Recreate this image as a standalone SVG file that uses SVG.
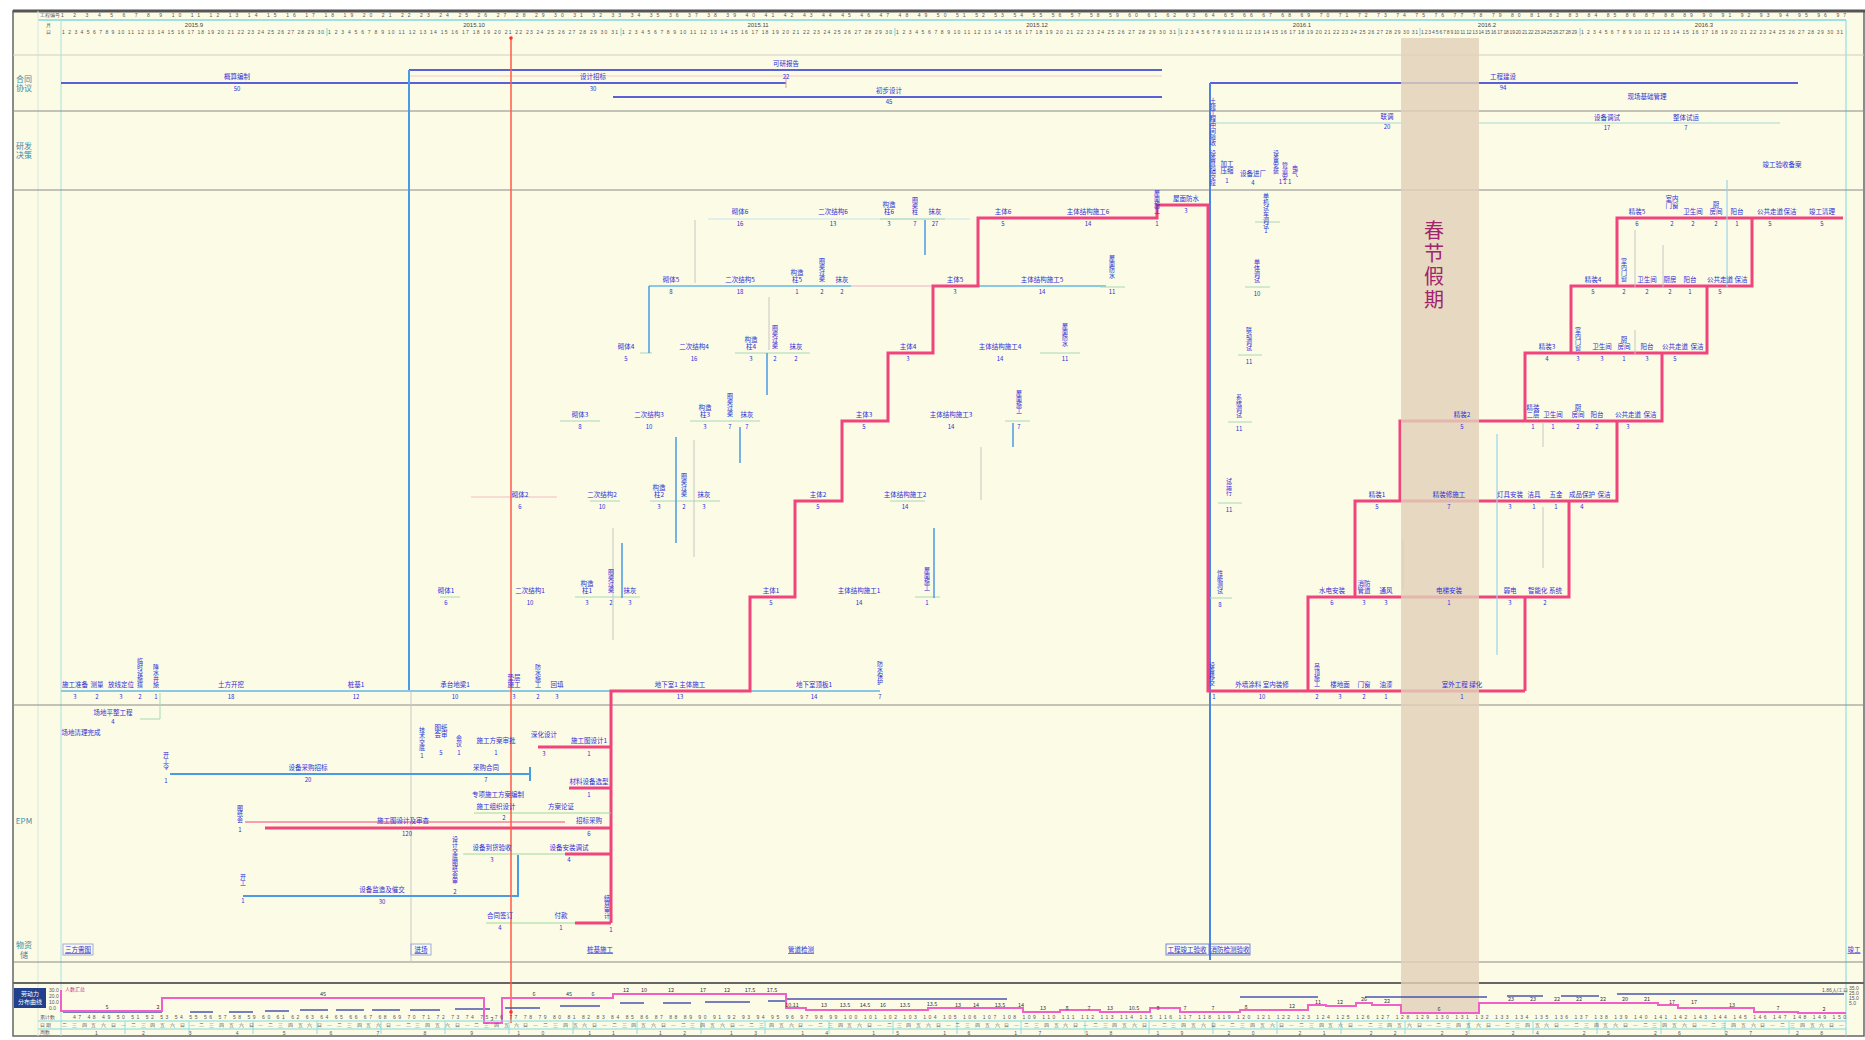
<svg xmlns="http://www.w3.org/2000/svg" width="1865" height="1040" viewBox="0 0 1865 1040">
<defs>
<style>
text{font-family:"Noto Sans CJK SC","Liberation Sans",sans-serif}
.l{font-size:6.5px;fill:#2d2fd8;text-anchor:middle}
.du{font-size:6px;fill:#2d2fd8;text-anchor:middle}
.v{font-size:6px;fill:#2d2fd8;writing-mode:vertical-rl}
.h{font-size:5px;fill:#555;font-family:"Liberation Sans",sans-serif}
.hm{font-size:6px;fill:#444;text-anchor:middle;font-family:"Liberation Sans",sans-serif}
.lab{font-size:8px;fill:#3a8ca8;text-anchor:middle}
.bx{font-size:6.5px;fill:#2d2fd8;text-anchor:middle;text-decoration:underline}
.cn{font-size:5.5px;fill:#333;text-anchor:middle;font-family:"Liberation Sans",sans-serif}
.crit{stroke:#f0447c;stroke-width:3;fill:none}
.act{stroke:#89c9e6;stroke-width:2;fill:none}
.thin{stroke:#a9d8b8;stroke-width:1;fill:none}
.dep{stroke:#c6c6c6;stroke-width:1;fill:none}
.bdep{stroke:#4a9be6;stroke-width:1.5;fill:none}
.sep{stroke:#8a8a8a;stroke-width:1}
.pl{stroke:#5862d6;stroke-width:2;fill:none}
.hol{font-size:20px;fill:#a0246e;writing-mode:vertical-rl;letter-spacing:3px}
</style>
</defs>
<rect x="0" y="0" width="1865" height="1040" fill="#ffffff"/>
<rect x="13" y="11" width="1851" height="1025" fill="#fcfbe6" stroke="#666" stroke-width="1.5"/>
<line x1="13" y1="11" x2="1865" y2="11" stroke="#555" stroke-width="3"/>

<g id="timescale">
<line x1="38" y1="20" x2="1846" y2="20" stroke="#7fd8e0" stroke-width="1.5"/>
<line x1="38" y1="11" x2="38" y2="1036" stroke="#d8e8e0" stroke-width="1"/>
<line x1="61" y1="20" x2="61" y2="1036" stroke="#a8e0e4" stroke-width="1"/>
<line x1="1846" y1="20" x2="1846" y2="1036" stroke="#7fd8e0" stroke-width="1"/>
<text class="h" x="40" y="17">工程编号</text>
<text class="h" x="61" y="17" textLength="1785" lengthAdjust="spacing">1 2 3 4 5 6 7 8 9 10 11 12 13 14 15 16 17 18 19 20 21 22 23 24 25 26 27 28 29 30 31 32 33 34 35 36 37 38 39 40 41 42 43 44 45 46 47 48 49 50 51 52 53 54 55 56 57 58 59 60 61 62 63 64 65 66 67 68 69 70 71 72 73 74 75 76 77 78 79 80 81 82 83 84 85 86 87 88 89 90 91 92 93 94 95 96 97</text>
<text class="h" x="46" y="27">月</text>
<text class="h" x="46" y="34">日</text>
<text class="hm" x="194" y="27">2015.9</text>
<text class="hm" x="474" y="27">2015.10</text>
<text class="hm" x="758" y="27">2015.11</text>
<text class="hm" x="1037" y="27">2015.12</text>
<text class="hm" x="1302" y="27">2016.1</text>
<text class="hm" x="1487" y="27">2016.2</text>
<text class="hm" x="1704" y="27">2016.3</text>
<text class="h" x="62" y="34" textLength="262" lengthAdjust="spacing">1 2 3 4 5 6 7 8 9 10 11 12 13 14 15 16 17 18 19 20 21 22 23 24 25 26 27 28 29 30</text>
<text class="h" x="328" y="34" textLength="290" lengthAdjust="spacing">1 2 3 4 5 6 7 8 9 10 11 12 13 14 15 16 17 18 19 20 21 22 23 24 25 26 27 28 29 30 31</text>
<text class="h" x="622" y="34" textLength="270" lengthAdjust="spacing">1 2 3 4 5 6 7 8 9 10 11 12 13 14 15 16 17 18 19 20 21 22 23 24 25 26 27 28 29 30</text>
<text class="h" x="896" y="34" textLength="280" lengthAdjust="spacing">1 2 3 4 5 6 7 8 9 10 11 12 13 14 15 16 17 18 19 20 21 22 23 24 25 26 27 28 29 30 31</text>
<text class="h" x="1180" y="34" textLength="238" lengthAdjust="spacing">1 2 3 4 5 6 7 8 9 10 11 12 13 14 15 16 17 18 19 20 21 22 23 24 25 26 27 28 29 30 31</text>
<text class="h" x="1421" y="34" textLength="156" lengthAdjust="spacing">1 2 3 4 5 6 7 8 9 10 11 12 13 14 15 16 17 18 19 20 21 22 23 24 25 26 27 28 29</text>
<text class="h" x="1581" y="34" textLength="262" lengthAdjust="spacing">1 2 3 4 5 6 7 8 9 10 11 12 13 14 15 16 17 18 19 20 21 22 23 24 25 26 27 28 29 30 31</text>
<path d="M327 28V36M621 28V36M895 28V36M1179 28V36M1420 28V36M1580 28V36" stroke="#7fd8e0" stroke-width="1"/>
</g>

<g id="bands">
<line x1="13" y1="55" x2="1864" y2="55" stroke="#d0cfc0" stroke-width="1"/>
<line class="sep" x1="13" y1="111" x2="1864" y2="111"/>
<line class="sep" x1="13" y1="190" x2="1864" y2="190"/>
<line class="sep" x1="13" y1="705" x2="1864" y2="705"/>
<line class="sep" x1="13" y1="962" x2="1864" y2="962"/>
<line x1="13" y1="983" x2="1864" y2="983" stroke="#666" stroke-width="2"/>
<text class="lab" x="24" y="82">合同</text>
<text class="lab" x="24" y="91">协议</text>
<text class="lab" x="24" y="149">研发</text>
<text class="lab" x="24" y="158">决策</text>
<text class="lab" x="24" y="824">EPM</text>
<text class="lab" x="24" y="948">物资</text>
<text class="lab" x="24" y="958">储</text>
</g>

<g id="connectors">
<path class="pl" d="M61 83H409M409 70H1162M409 83H786M613 97H1162M1210 83H1798"/>
<path d="M409 76H1162" stroke="#f0cfc4" stroke-width="1"/>
<path d="M786 76V88" stroke="#e0a0a0" stroke-width="1"/>
<path d="M409 70V691" stroke="#4a9be6" stroke-width="2"/>
<path d="M411 691V962" stroke="#c8c8c8" stroke-width="1"/>
<path d="M1210 83V960" stroke="#4a86e0" stroke-width="2"/>
<path d="M1210 123H1401M1479 123H1780" stroke="#a9d8d0" stroke-width="1"/>
<path class="act" d="M61 691H611M750 691H880M649 286H851M978 286H1106"/>
<path d="M851 286H933" stroke="#f6c8d0" stroke-width="1.5"/>
<path d="M708 219H970" stroke="#c5e3ec" stroke-width="1"/>
<path class="thin" d="M640 353H652M735 353H810M1040 353H1080M560 421H600M690 421H760M1005 421H1030M590 501H620M650 501H720M890 501H925M440 597H460M575 597H640M915 597H940M880 219H945M1255 222H1280M1245 287H1270M1238 355H1262M1228 422H1252M1218 503H1242M1210 598H1232M1100 287H1125M140 719H160V693"/>
<path d="M471 497H557" stroke="#f6b8c4" stroke-width="1"/>
<path class="crit" d="M611 923V691H750V597H795V501H842V421H888V353H933V286H978V218H1157V205H1208V691H1525"/>
<path class="crit" d="M1308 691V597H1569V501M1355 597V501H1617V421M1400 501V421H1662V353M1525 421V353H1707V286M1571 353V286H1752V218M1617 286V218H1843M1525 691V597"/>
<path class="crit" d="M538 747H611M569 788H611M265 828H611M565 854H611M575 923H611"/>
<path d="M245 822H565" stroke="#f0447c" stroke-width="1"/>
<path d="M474 813H611M463 854H565M486 923H575" stroke="#9ed89a" stroke-width="1"/>
<path d="M170 774H530M243 896H518V855M530 767V781" stroke="#4a9be6" stroke-width="2" fill="none"/>
<path class="bdep" d="M649 286V353M767 353V395M676 437V543M740 427V463M622 543V598M1013 423V447M934 528V598M925 220V255"/>
<path class="dep" d="M695 220V283M769 297V350M694 440V557M613 528V640M981 447V500M1543 507V568M1543 422V447M1635 230V287M1663 245V287M1635 330V354M1403 540V590"/>
<path d="M1497 434V655M1727 180V287" stroke="#9cd4e6" stroke-width="1.2"/>
</g>

<g id="holiday">
<rect x="1401" y="38" width="78" height="974" fill="#e0cfb8" fill-opacity="0.82"/>
<text class="hol" x="1434" y="220">春节假期</text>
</g>

<g id="today">
<line x1="511" y1="37" x2="511" y2="1023" stroke="#ff5a48" stroke-width="1.5"/>
<circle cx="511" cy="38" r="1.8" fill="#ff3030"/>
<circle cx="511" cy="1012" r="1.8" fill="#ff3030"/>
</g>

<g id="n-contract">
<g id="p1"><text class="l" x="237" y="79">概算编制</text><text class="du" x="237" y="91">50</text></g>
<g id="p2"><text class="l" x="786" y="66">可研报告</text><text class="du" x="786" y="79">22</text></g>
<g id="p3"><text class="l" x="593" y="79">设计招标</text><text class="du" x="593" y="91">30</text></g>
<g id="p4"><text class="l" x="889" y="93">初步设计</text><text class="du" x="889" y="104">45</text></g>
<g id="p5"><text class="l" x="1503" y="79">工程建设</text><text class="du" x="1503" y="90">94</text></g>
<g id="p6"><text class="l" x="1647" y="99">现场基础管理</text></g>
</g>

<g id="n-research">
<g id="q1"><text class="l" x="1387" y="119">联调</text><text class="du" x="1387" y="129">20</text></g>
<g id="q2"><text class="l" x="1607" y="120">设备调试</text><text class="du" x="1607" y="130">17</text></g>
<g id="q3"><text class="l" x="1686" y="120">整体试运</text><text class="du" x="1686" y="130">7</text></g>
<g id="q4"><text class="l" x="1782" y="167">竣工验收备案</text></g>
<g id="q5"><text class="v" x="1213" y="98">土建工程中间验收</text><text class="v" x="1213" y="150">设备基础交接</text></g>
<g id="q6"><text class="l" x="1227" y="166">加工</text><text class="l" x="1227" y="173">压缩</text><text class="du" x="1227" y="183">1</text></g>
<g id="q7"><text class="l" x="1253" y="176">设备进厂</text><text class="du" x="1253" y="185">4</text></g>
<g id="q8"><text class="v" x="1276" y="150">设备安装</text><text class="v" x="1285" y="162">管道安</text><text class="v" x="1295" y="165">电气</text><text class="du" x="1285" y="184">1 1 1</text></g>
</g>

<g id="n-main">
<g id="a01"><text class="l" x="75" y="687">施工准备</text><text class="du" x="75" y="699">3</text></g>
<g id="a02"><text class="l" x="97" y="687">测量</text><text class="du" x="97" y="699">2</text></g>
<g id="a03"><text class="l" x="121" y="687">放线定位</text><text class="du" x="121" y="699">3</text></g>
<g id="a04"><text class="v" x="140" y="658">临时设施搭</text><text class="du" x="140" y="699">2</text></g>
<g id="a05"><text class="v" x="156" y="664">降水井施</text><text class="du" x="156" y="699">1</text></g>
<g id="a06"><text class="l" x="231" y="687">土方开挖</text><text class="du" x="231" y="699">18</text></g>
<g id="a07"><text class="l" x="356" y="687">桩基1</text><text class="du" x="356" y="699">12</text></g>
<g id="a08"><text class="l" x="455" y="687">承台地梁1</text><text class="du" x="455" y="699">10</text></g>
<g id="a09"><text class="l" x="514" y="680">垫层</text><text class="l" x="514" y="687">施工</text><text class="du" x="514" y="699">3</text></g>
<g id="a10"><text class="v" x="538" y="664">防水施工</text><text class="du" x="538" y="699">2</text></g>
<g id="a11"><text class="l" x="557" y="687">回填</text><text class="du" x="557" y="699">3</text></g>
<g id="a12"><text class="l" x="680" y="687">地下室1 主体施工</text><text class="du" x="680" y="699">13</text></g>
<g id="a13"><text class="l" x="814" y="687">地下室顶板1</text><text class="du" x="814" y="699">14</text></g>
<g id="a14"><text class="v" x="880" y="661">防水保护</text><text class="du" x="880" y="699">7</text></g>
<g id="a15"><text class="l" x="113" y="715">场地平整工程</text><text class="du" x="113" y="724">4</text></g>
<g id="a16"><text class="l" x="81" y="735">场地清理完成</text></g>

<g id="b01"><text class="l" x="446" y="593">砌体1</text><text class="du" x="446" y="605">6</text></g>
<g id="b02"><text class="l" x="530" y="593">二次结构1</text><text class="du" x="530" y="605">10</text></g>
<g id="b03"><text class="l" x="587" y="586">构造</text><text class="l" x="587" y="593">柱1</text><text class="du" x="587" y="605">3</text></g>
<g id="b04"><text class="v" x="611" y="569">圈梁过梁</text><text class="du" x="611" y="605">2</text></g>
<g id="b05"><text class="l" x="630" y="593">抹灰</text><text class="du" x="630" y="605">3</text></g>
<g id="b06"><text class="l" x="771" y="593">主体1</text><text class="du" x="771" y="605">5</text></g>
<g id="b07"><text class="l" x="859" y="593">主体结构施工1</text><text class="du" x="859" y="605">14</text></g>
<g id="b08"><text class="v" x="927" y="567">屋面施工</text><text class="du" x="927" y="605">1</text></g>

<g id="c01"><text class="l" x="520" y="497">砌体2</text><text class="du" x="520" y="509">6</text></g>
<g id="c02"><text class="l" x="602" y="497">二次结构2</text><text class="du" x="602" y="509">10</text></g>
<g id="c03"><text class="l" x="659" y="490">构造</text><text class="l" x="659" y="497">柱2</text><text class="du" x="659" y="509">3</text></g>
<g id="c04"><text class="v" x="684" y="473">圈梁过梁</text><text class="du" x="684" y="509">2</text></g>
<g id="c05"><text class="l" x="704" y="497">抹灰</text><text class="du" x="704" y="509">3</text></g>
<g id="c06"><text class="l" x="818" y="497">主体2</text><text class="du" x="818" y="509">5</text></g>
<g id="c07"><text class="l" x="905" y="497">主体结构施工2</text><text class="du" x="905" y="509">14</text></g>

<g id="d01"><text class="l" x="580" y="417">砌体3</text><text class="du" x="580" y="429">8</text></g>
<g id="d02"><text class="l" x="649" y="417">二次结构3</text><text class="du" x="649" y="429">10</text></g>
<g id="d03"><text class="l" x="705" y="410">构造</text><text class="l" x="705" y="417">柱3</text><text class="du" x="705" y="429">3</text></g>
<g id="d04"><text class="v" x="730" y="393">圈梁过梁</text><text class="du" x="730" y="429">7</text></g>
<g id="d05"><text class="l" x="747" y="417">抹灰</text><text class="du" x="747" y="429">7</text></g>
<g id="d06"><text class="l" x="864" y="417">主体3</text><text class="du" x="864" y="429">5</text></g>
<g id="d07"><text class="l" x="951" y="417">主体结构施工3</text><text class="du" x="951" y="429">14</text></g>
<g id="d08"><text class="v" x="1019" y="390">屋面施工</text><text class="du" x="1019" y="429">7</text></g>

<g id="e01"><text class="l" x="626" y="349">砌体4</text><text class="du" x="626" y="361">5</text></g>
<g id="e02"><text class="l" x="694" y="349">二次结构4</text><text class="du" x="694" y="361">16</text></g>
<g id="e03"><text class="l" x="751" y="342">构造</text><text class="l" x="751" y="349">柱4</text><text class="du" x="751" y="361">3</text></g>
<g id="e04"><text class="v" x="775" y="325">圈梁过梁</text><text class="du" x="775" y="361">2</text></g>
<g id="e05"><text class="l" x="796" y="349">抹灰</text><text class="du" x="796" y="361">2</text></g>
<g id="e06"><text class="l" x="908" y="349">主体4</text><text class="du" x="908" y="361">3</text></g>
<g id="e07"><text class="l" x="1000" y="349">主体结构施工4</text><text class="du" x="1000" y="361">14</text></g>
<g id="e08"><text class="v" x="1065" y="323">屋面防水</text><text class="du" x="1065" y="361">11</text></g>

<g id="f01"><text class="l" x="671" y="282">砌体5</text><text class="du" x="671" y="294">8</text></g>
<g id="f02"><text class="l" x="740" y="282">二次结构5</text><text class="du" x="740" y="294">18</text></g>
<g id="f03"><text class="l" x="797" y="275">构造</text><text class="l" x="797" y="282">柱5</text><text class="du" x="797" y="294">1</text></g>
<g id="f04"><text class="v" x="822" y="258">圈梁过梁</text><text class="du" x="822" y="294">2</text></g>
<g id="f05"><text class="l" x="842" y="282">抹灰</text><text class="du" x="842" y="294">2</text></g>
<g id="f06"><text class="l" x="955" y="282">主体5</text><text class="du" x="955" y="294">3</text></g>
<g id="f07"><text class="l" x="1042" y="282">主体结构施工5</text><text class="du" x="1042" y="294">14</text></g>
<g id="f08"><text class="v" x="1112" y="255">屋面防水</text><text class="du" x="1112" y="294">11</text></g>

<g id="g01"><text class="l" x="740" y="214">砌体6</text><text class="du" x="740" y="226">16</text></g>
<g id="g02"><text class="l" x="833" y="214">二次结构6</text><text class="du" x="833" y="226">13</text></g>
<g id="g03"><text class="l" x="889" y="207">构造</text><text class="l" x="889" y="214">柱6</text><text class="du" x="889" y="226">3</text></g>
<g id="g04"><text class="v" x="915" y="197">圈梁柱</text><text class="du" x="915" y="226">7</text></g>
<g id="g05"><text class="l" x="935" y="214">抹灰</text><text class="du" x="935" y="226">27</text></g>
<g id="g06"><text class="l" x="1003" y="214">主体6</text><text class="du" x="1003" y="226">5</text></g>
<g id="g07"><text class="l" x="1088" y="214">主体结构施工6</text><text class="du" x="1088" y="226">14</text></g>
<g id="g08"><text class="v" x="1157" y="190">屋面施工</text><text class="du" x="1157" y="226">1</text></g>
<g id="g09"><text class="l" x="1186" y="201">屋面防水</text><text class="du" x="1186" y="213">3</text></g>

<g id="r01"><text class="v" x="1266" y="193">单机试车调试</text><text class="du" x="1266" y="233">1</text></g>
<g id="r02"><text class="v" x="1257" y="259">单体调试</text><text class="du" x="1257" y="296">10</text></g>
<g id="r03"><text class="v" x="1249" y="327">联动调试</text><text class="du" x="1249" y="364">11</text></g>
<g id="r04"><text class="v" x="1239" y="394">系统调试</text><text class="du" x="1239" y="431">11</text></g>
<g id="r05"><text class="v" x="1229" y="478">试运行</text><text class="du" x="1229" y="512">11</text></g>
<g id="r06"><text class="v" x="1220" y="570">性能测试</text><text class="du" x="1220" y="607">8</text></g>
<g id="r07"><text class="v" x="1212" y="662">设备移交</text><text class="du" x="1214" y="699">1</text></g>

<g id="h01"><text class="l" x="1262" y="687">外墙涂料 室内装修</text><text class="du" x="1262" y="699">10</text></g>
<g id="h02"><text class="v" x="1317" y="663">吊顶施工</text><text class="du" x="1317" y="699">2</text></g>
<g id="h03"><text class="l" x="1340" y="687">楼地面</text><text class="du" x="1340" y="699">3</text></g>
<g id="h04"><text class="l" x="1364" y="687">门窗</text><text class="du" x="1364" y="699">2</text></g>
<g id="h05"><text class="l" x="1386" y="687">油漆</text><text class="du" x="1386" y="699">1</text></g>
<g id="h06"><text class="l" x="1462" y="687">室外工程 绿化</text><text class="du" x="1462" y="699">1</text></g>
<g id="h07"><text class="l" x="1332" y="593">水电安装</text><text class="du" x="1332" y="605">6</text></g>
<g id="h08"><text class="l" x="1364" y="586">消防</text><text class="l" x="1364" y="593">管道</text><text class="du" x="1364" y="605">3</text></g>
<g id="h09"><text class="l" x="1386" y="593">通风</text><text class="du" x="1386" y="605">3</text></g>
<g id="h10"><text class="l" x="1449" y="593">电梯安装</text><text class="du" x="1449" y="605">1</text></g>
<g id="h11"><text class="l" x="1510" y="593">弱电</text><text class="du" x="1510" y="605">3</text></g>
<g id="h12"><text class="l" x="1545" y="593">智能化 系统</text><text class="du" x="1545" y="605">2</text></g>
<g id="h13"><text class="l" x="1377" y="497">精装1</text><text class="du" x="1377" y="509">5</text></g>
<g id="h14"><text class="l" x="1449" y="497">精装修施工</text><text class="du" x="1449" y="509">7</text></g>
<g id="h15"><text class="l" x="1510" y="497">灯具安装</text><text class="du" x="1510" y="509">3</text></g>
<g id="h16"><text class="l" x="1534" y="497">洁具</text><text class="du" x="1534" y="509">1</text></g>
<g id="h17"><text class="l" x="1556" y="497">五金</text><text class="du" x="1556" y="509">1</text></g>
<g id="h18"><text class="l" x="1582" y="497">成品保护</text><text class="du" x="1582" y="509">4</text></g>
<g id="h19"><text class="l" x="1604" y="497">保洁</text></g>

<g id="i00"><text class="l" x="1462" y="417">精装2</text><text class="du" x="1462" y="429">5</text></g>
<g id="i01"><text class="l" x="1533" y="410">精装</text><text class="l" x="1533" y="417">二层</text><text class="du" x="1533" y="429">1</text></g>
<g id="i02"><text class="l" x="1553" y="417">卫生间</text><text class="du" x="1553" y="429">1</text></g>
<g id="i03"><text class="l" x="1578" y="410">厨</text><text class="l" x="1578" y="417">房间</text><text class="du" x="1578" y="429">2</text></g>
<g id="i04"><text class="l" x="1597" y="417">阳台</text><text class="du" x="1597" y="429">2</text></g>
<g id="i05"><text class="l" x="1628" y="417">公共走道</text><text class="du" x="1628" y="429">3</text></g>
<g id="i06"><text class="l" x="1650" y="417">保洁</text></g>

<g id="j01"><text class="l" x="1547" y="349">精装3</text><text class="du" x="1547" y="361">4</text></g>
<g id="j02"><text class="v" x="1578" y="327">室内门窗</text><text class="du" x="1578" y="361">3</text></g>
<g id="j03"><text class="l" x="1602" y="349">卫生间</text><text class="du" x="1602" y="361">3</text></g>
<g id="j04"><text class="l" x="1624" y="342">厨</text><text class="l" x="1624" y="349">房间</text><text class="du" x="1624" y="361">1</text></g>
<g id="j05"><text class="l" x="1647" y="349">阳台</text><text class="du" x="1647" y="361">3</text></g>
<g id="j06"><text class="l" x="1675" y="349">公共走道</text><text class="du" x="1675" y="361">5</text></g>
<g id="j07"><text class="l" x="1697" y="349">保洁</text></g>

<g id="k01"><text class="l" x="1593" y="282">精装4</text><text class="du" x="1593" y="294">5</text></g>
<g id="k02"><text class="v" x="1624" y="258">室内门窗</text><text class="du" x="1624" y="294">2</text></g>
<g id="k03"><text class="l" x="1647" y="282">卫生间</text><text class="du" x="1647" y="294">2</text></g>
<g id="k04"><text class="l" x="1670" y="282">厨房</text><text class="du" x="1670" y="294">2</text></g>
<g id="k05"><text class="l" x="1690" y="282">阳台</text><text class="du" x="1690" y="294">1</text></g>
<g id="k06"><text class="l" x="1720" y="282">公共走道</text><text class="du" x="1720" y="294">5</text></g>
<g id="k07"><text class="l" x="1741" y="282">保洁</text></g>

<g id="l01"><text class="l" x="1637" y="214">精装5</text><text class="du" x="1637" y="226">6</text></g>
<g id="l02"><text class="l" x="1672" y="201">室内</text><text class="l" x="1672" y="208">门窗</text><text class="du" x="1672" y="226">2</text></g>
<g id="l03"><text class="l" x="1693" y="214">卫生间</text><text class="du" x="1693" y="226">2</text></g>
<g id="l04"><text class="l" x="1716" y="207">厨</text><text class="l" x="1716" y="214">房间</text><text class="du" x="1716" y="226">2</text></g>
<g id="l05"><text class="l" x="1737" y="214">阳台</text><text class="du" x="1737" y="226">1</text></g>
<g id="l06"><text class="l" x="1770" y="214">公共走道</text><text class="du" x="1770" y="226">5</text></g>
<g id="l07"><text class="l" x="1790" y="214">保洁</text></g>
<g id="l08"><text class="l" x="1822" y="214">竣工清理</text><text class="du" x="1822" y="226">5</text></g>
</g>

<g id="n-epm">
<g id="m01"><text class="v" x="166" y="752">开工令</text><text class="du" x="166" y="783">1</text></g>
<g id="m02"><text class="l" x="308" y="770">设备采购招标</text><text class="du" x="308" y="782">20</text></g>
<g id="m03"><text class="l" x="486" y="770">采购合同</text><text class="du" x="486" y="782">7</text></g>
<g id="m04"><text class="v" x="240" y="805">图纸会</text><text class="du" x="240" y="832">1</text></g>
<g id="m05"><text class="l" x="403" y="823">施工图设计及审查</text><text class="du" x="407" y="836">120</text></g>
<g id="m06"><text class="v" x="243" y="874">开工</text><text class="du" x="243" y="903">1</text></g>
<g id="m07"><text class="l" x="382" y="892">设备监造及催交</text><text class="du" x="382" y="904">30</text></g>
<g id="m08"><text class="v" x="422" y="727">技术交底</text><text class="du" x="422" y="758">1</text></g>
<g id="m09"><text class="l" x="441" y="730">图纸</text><text class="l" x="441" y="737">会审</text><text class="du" x="441" y="755">5</text></g>
<g id="m10"><text class="v" x="459" y="735">会议</text><text class="du" x="459" y="755">1</text></g>
<g id="m11"><text class="l" x="496" y="743">施工方案审批</text><text class="du" x="496" y="755">1</text></g>
<g id="m12"><text class="l" x="544" y="737">深化设计</text><text class="du" x="544" y="756">3</text></g>
<g id="m13"><text class="l" x="589" y="743">施工图设计1</text><text class="du" x="589" y="756">1</text></g>
<g id="m14"><text class="l" x="589" y="784">材料设备选型</text><text class="du" x="589" y="797">1</text></g>
<g id="m15"><text class="l" x="498" y="797">专项施工方案编制</text></g>
<g id="m16"><text class="l" x="496" y="809">施工组织设计</text><text class="du" x="504" y="820">2</text></g>
<g id="m17"><text class="l" x="561" y="809">方案论证</text></g>
<g id="m18"><text class="l" x="589" y="823">招标采购</text><text class="du" x="589" y="836">6</text></g>
<g id="m19"><text class="v" x="455" y="836">设计交底图纸会审</text><text class="du" x="455" y="894">2</text></g>
<g id="m20"><text class="l" x="492" y="850">设备到货验收</text><text class="du" x="492" y="862">3</text></g>
<g id="m21"><text class="l" x="569" y="850">设备安装调试</text><text class="du" x="569" y="862">4</text></g>
<g id="m22"><text class="l" x="500" y="918">合同签订</text><text class="du" x="500" y="930">4</text></g>
<g id="m23"><text class="l" x="561" y="918">付款</text><text class="du" x="561" y="930">1</text></g>
<g id="m24"><text class="v" x="607" y="895">结算审计</text><text class="du" x="611" y="932">1</text></g>
</g>

<g id="n-material">
<g id="s1"><rect x="63" y="944" width="30" height="11" fill="none" stroke="#8a96dc" stroke-width="0.8"/><text class="bx" x="78" y="952">三方需图</text></g>
<g id="s2"><rect x="411" y="944" width="20" height="11" fill="none" stroke="#8a96dc" stroke-width="0.8"/><text class="bx" x="421" y="952">进场</text></g>
<g id="s3"><text class="bx" x="600" y="952">桩基施工</text></g>
<g id="s4"><text class="bx" x="801" y="952">管道检测</text></g>
<g id="s5"><rect x="1166" y="944" width="43" height="11" fill="none" stroke="#5a6ad0" stroke-width="0.8"/><text class="bx" x="1187" y="952">工程竣工验收</text></g>
<g id="s6"><rect x="1210" y="944" width="40" height="11" fill="none" stroke="#5a6ad0" stroke-width="0.8"/><text class="bx" x="1230" y="952">消防检测验收</text></g>
<g id="s7"><text class="bx" x="1854" y="952">竣工</text></g>
</g>

<g id="resource-chart">
<rect x="14" y="988" width="32" height="20" fill="#22408c"/>
<text x="30" y="996" font-size="6" fill="#fff" text-anchor="middle">劳动力</text>
<text x="30" y="1004" font-size="6" fill="#fff" text-anchor="middle">分布曲线</text>
<text class="h" x="49" y="992" font-size="4">30.0</text>
<text class="h" x="49" y="998" font-size="4">20.0</text>
<text class="h" x="49" y="1004" font-size="4">10.0</text>
<text class="h" x="49" y="1010" font-size="4">0.0</text>
<text x="65" y="991" font-size="5" fill="#c0308a">人数汇总</text>
<path d="M63 1012H162M190 1012H213M229 1012H253M265 1011H289M300 1010H328M336 1010H364M372 1010H400M410 1010H440M455 1009H490M505 1008H540M560 1006H600M620 1003H644M663 1003H691M705 1002H750M768 1001H786M786 999H1007M1240 997H1318M1365 997H1487M1507 996H1543M1561 996H1599M1617 994H1844" stroke="#4a56b0" stroke-width="1.5" fill="none"/>
<path d="M61 990V1011H162V998H484V1023H502V998H613V994H786V1008H806V1010H928V1008H1023V1012H1060V1010H1100V1012H1150V1008H1180V1012H1240V1010H1308V1005H1326V1006H1356V1003H1372V1005H1401V1013H1479V1003H1658V1005H1678V1008H1754V1012H1798V1013H1846" stroke="#f060c8" stroke-width="2" fill="none"/>
<g class="cn">
<text x="107" y="1009">5</text><text x="158" y="1009">2</text><text x="323" y="996">45</text><text x="492" y="1021">2</text><text x="534" y="996">6</text><text x="569" y="996">45</text><text x="593" y="996">6</text>
<text x="626" y="992">12</text><text x="644" y="992">10</text><text x="671" y="992">12</text><text x="703" y="992">17</text><text x="727" y="992">12</text><text x="750" y="992">17.5</text><text x="772" y="992">17.5</text>
<text x="792" y="1007">10.11</text><text x="824" y="1007">13</text><text x="845" y="1007">13.5</text><text x="865" y="1007">14.5</text><text x="883" y="1007">16</text><text x="905" y="1007">13.5</text><text x="932" y="1006">13.5</text><text x="958" y="1007">13</text><text x="976" y="1007">14</text><text x="1000" y="1007">13.5</text><text x="1021" y="1007">14</text>
<text x="1043" y="1010">13</text><text x="1067" y="1010">8</text><text x="1089" y="1010">7</text><text x="1110" y="1010">13</text><text x="1134" y="1010">10.5</text><text x="1158" y="1010">8</text><text x="1185" y="1010">7</text><text x="1213" y="1010">7</text>
<text x="1246" y="1009">8</text><text x="1292" y="1008">12</text><text x="1318" y="1004">11</text><text x="1340" y="1004">12</text><text x="1364" y="1001">26</text><text x="1387" y="1003">22</text><text x="1439" y="1011">6</text>
<text x="1511" y="1001">23</text><text x="1533" y="1001">23</text><text x="1557" y="1001">22</text><text x="1579" y="1001">22</text><text x="1603" y="1001">22</text><text x="1625" y="1001">20</text><text x="1647" y="1001">21</text><text x="1672" y="1004">17</text><text x="1694" y="1004">17</text><text x="1732" y="1007">13</text><text x="1778" y="1010">7</text><text x="1824" y="1011">2</text>
</g>
<text class="h" x="1822" y="992" font-size="4">1.86人/工日</text>
<text class="h" x="1849" y="990" font-size="3.5">35.0</text>
<text class="h" x="1849" y="995" font-size="3.5">25.0</text>
<text class="h" x="1849" y="1000" font-size="3.5">15.0</text>
<text class="h" x="1849" y="1005" font-size="3.5">5.0</text>
<line x1="38" y1="1021" x2="1846" y2="1021" stroke="#7fd8e0" stroke-width="1"/>
<line x1="38" y1="1029" x2="1846" y2="1029" stroke="#7fd8e0" stroke-width="1"/>
<path d="M125 1021V1034M189 1021V1034M253 1021V1034M317 1021V1034M381 1021V1034M445 1021V1034M509 1021V1034M573 1021V1034M637 1021V1034M701 1021V1034M765 1021V1034M829 1021V1034M893 1021V1034M957 1021V1034M1021 1021V1034M1085 1021V1034M1149 1021V1034M1213 1021V1034M1277 1021V1034M1341 1021V1034M1405 1021V1034M1469 1021V1034M1533 1021V1034M1597 1021V1034M1661 1021V1034M1725 1021V1034M1789 1021V1034" stroke="#8ee0e8" stroke-width="1"/>
<text class="h" x="40" y="1019" font-size="4">累计数</text>
<text class="h" x="40" y="1027" font-size="4">日 期</text>
<text class="h" x="40" y="1034" font-size="4">周数</text>
<text class="h" x="73" y="1019" textLength="1773" lengthAdjust="spacing">47 48 49 50 51 52 53 54 55 56 57 58 59 60 61 62 63 64 65 66 67 68 69 70 71 72 73 74 75 76 77 78 79 80 81 82 83 84 85 86 87 88 89 90 91 92 93 94 95 96 97 98 99 100 101 102 103 104 105 106 107 108 109 110 111 112 113 114 115 116 117 118 119 120 121 122 123 124 125 126 127 128 129 130 131 132 133 134 135 136 137 138 139 140 141 142 143 144 145 146 147 148 149 150</text>
<text class="h" x="62" y="1027" textLength="1782" lengthAdjust="spacing">二 三 四 五 六 日 一 二 三 四 五 六 日 一 二 三 四 五 六 日 一 二 三 四 五 六 日 一 二 三 四 五 六 日 一 二 三 四 五 六 日 一 二 三 四 五 六 日 一 二 三 四 五 六 日 一 二 三 四 五 六 日 一 二 三 四 五 六 日 一 二 三 四 五 六 日 一 二 三 四 五 六 日 一 二 三 四 五 六 日 一 二 三 四 五 六 日 一 二 三 四 五 六 日 一 二 三 四 五 六 日 一 二 三 四 五 六 日 一 二 三 四 五 六 日 一 二 三 四 五 六 日 一 二 三 四 五 六 日 一 二 三 四 五 六 日 一 二 三 四 五 六 日 一 二 三 四 五 六 日 一 二 三 四 五 六 日 一 二 三 四 五 六 日 一 二 三 四 五 六 日 一</text>
<text class="h" x="95" y="1035" textLength="1728" lengthAdjust="spacing">1 2 3 4 5 6 7 8 9 10 11 12 13 14 15 16 17 18 19 20 21 22 23 24 25 26 27 28</text>
</g>
</svg>
